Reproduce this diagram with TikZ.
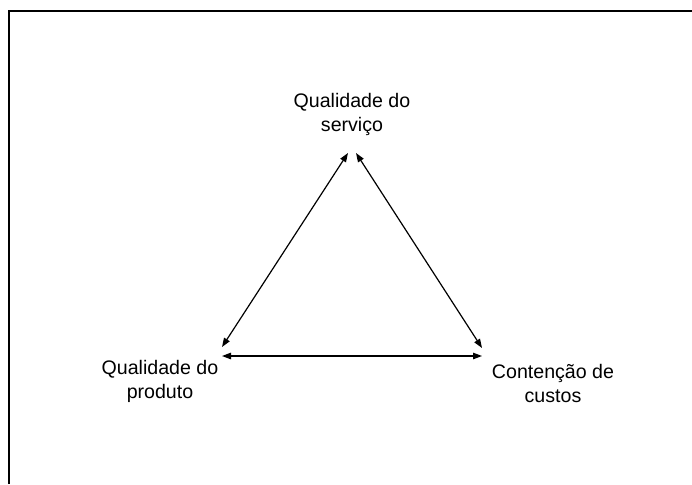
\documentclass[tikz,border=0pt]{standalone}
\usepackage{fontspec}
\setmainfont{Liberation Sans}
\usetikzlibrary{arrows.meta,positioning}

\begin{document}
\begin{tikzpicture}[x=1pt,y=-1pt,
    label/.style={align=center,font=\fontsize{19.6}{24}\selectfont,inner sep=0pt},
    link/.style={{Triangle[length=9pt,width=6.5pt]}-{Triangle[length=9pt,width=6.5pt]},line width=1.2pt}
  ]
    \useasboundingbox (0,0) rectangle (692,484);
    % frame
    \draw[line width=1.5pt] (9,484) -- (9,11) -- (692,11);

    % labels
    \node[label] (serv) at (352,114) {Qualidade do\\serviço};
    \node[label] (prod) at (160,381) {Qualidade do\\produto};
    \node[label] (cust) at (553,383) {Contenção de\\custos};

    % arrow ends
    \coordinate (serv-l) at (348,153);
    \coordinate (serv-r) at (356,153);
    \coordinate (prod-t) at (222,347);
    \coordinate (prod-r) at (222,356);
    \coordinate (cust-t) at (482,348);
    \coordinate (cust-l) at (482,356);

    % arrows
    \draw[link] (serv-l) -- (prod-t);
    \draw[link] (serv-r) -- (cust-t);
    \draw[link] (prod-r) -- (cust-l);
\end{tikzpicture}
\end{document}
